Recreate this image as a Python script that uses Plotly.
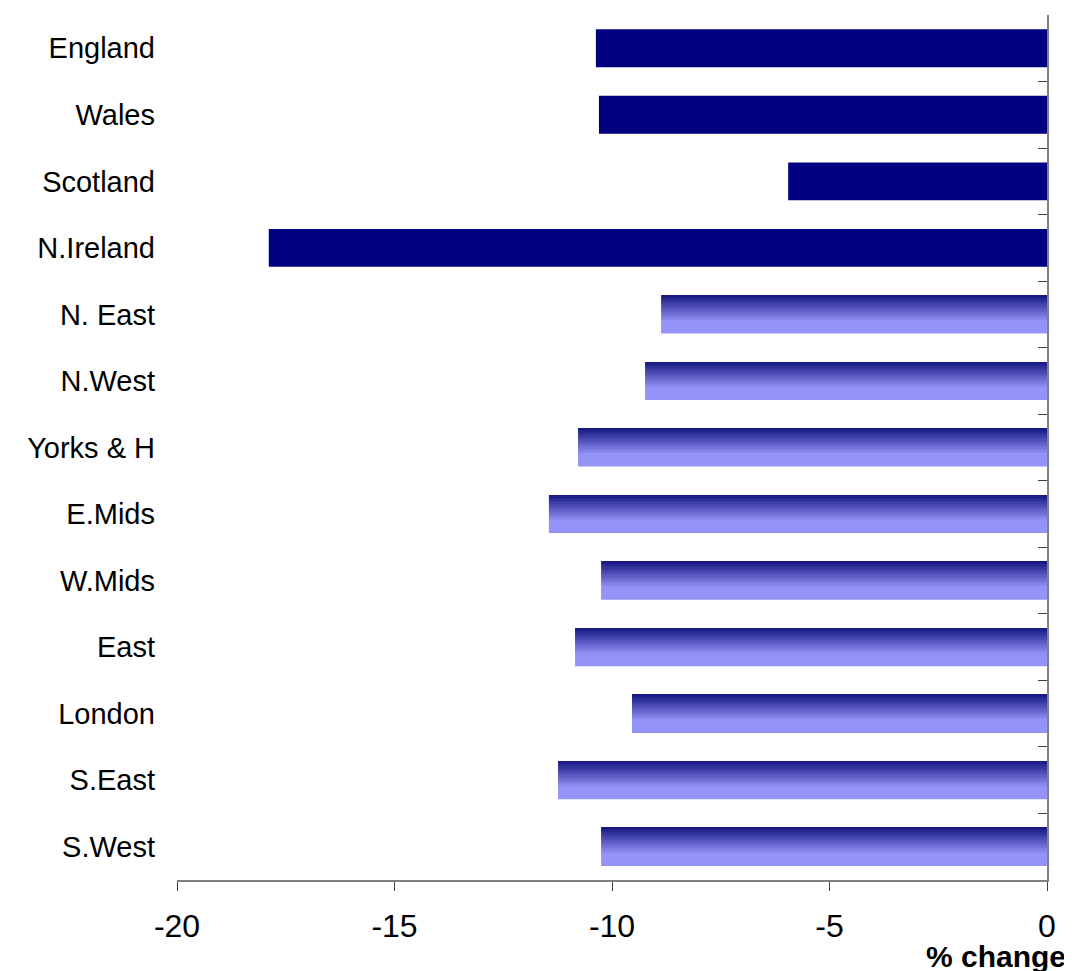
import plotly.graph_objects as go

categories = ["England", "Wales", "Scotland", "N.Ireland", "N. East", "N.West",
              "Yorks & H", "E.Mids", "W.Mids", "East", "London", "S.East", "S.West"]
values = [-10.37, -10.30, -5.95, -17.89, -8.87, -9.24, -10.78, -11.45,
          -10.25, -10.85, -9.54, -11.24, -10.25]
is_nation = [True, True, True, True, False, False, False, False,
             False, False, False, False, False]
x_ticks = [-20, -15, -10, -5, 0]

BAR_W = 0.57
N_STRIPS = 24
TOP = (20, 20, 128)
BOT = (148, 148, 248)

def strip_color(f):
    t = min(f / 0.7, 1.0)
    c = [round(TOP[k] + (BOT[k] - TOP[k]) * t) for k in range(3)]
    return f"rgb({c[0]},{c[1]},{c[2]})"

fig = go.Figure()

nat_y = [c for c, n in zip(categories, is_nation) if n]
nat_x = [v for v, n in zip(values, is_nation) if n]
reg_y = [c for c, n in zip(categories, is_nation) if not n]
reg_x = [v for v, n in zip(values, is_nation) if not n]

fig.add_trace(go.Bar(y=nat_y, x=nat_x, orientation="h", width=BAR_W,
                     marker=dict(color="#000080", line=dict(width=0)),
                     showlegend=False, hoverinfo="x+y"))

sw = BAR_W / N_STRIPS
for i in range(N_STRIPS):
    f = (i + 0.5) / N_STRIPS
    fig.add_trace(go.Bar(y=reg_y, x=reg_x, orientation="h",
                         width=sw * 1.06, offset=-BAR_W / 2 + i * sw,
                         marker=dict(color=strip_color(f), line=dict(width=0)),
                         showlegend=False, hoverinfo="skip"))

# invisible trace for right-side axis carrying the boundary ticks
fig.add_trace(go.Scatter(x=[0], y=[0], yaxis="y2", mode="markers",
                         marker=dict(opacity=0), showlegend=False, hoverinfo="skip"))

n = len(categories)
fig.update_layout(
    width=1064, height=963,
    margin=dict(l=169, r=25, t=7, b=91),
    paper_bgcolor="white", plot_bgcolor="white",
    barmode="overlay",
    font=dict(family="Liberation Sans, Arial, sans-serif", color="black"),
    xaxis=dict(range=[-20, 0], tickvals=x_ticks, ticktext=[str(t) for t in x_ticks],
               showgrid=False, zeroline=False, showline=True, linecolor="#808080",
               linewidth=2, ticks="outside", ticklen=9, tickwidth=1, tickcolor="#404040",
               tickfont=dict(size=32), ticklabelstandoff=8),
    yaxis=dict(categoryorder="array", categoryarray=categories,
               range=[n - 0.5, -0.5], showgrid=False, zeroline=False, showline=False,
               ticks="", tickfont=dict(size=29), ticklabelstandoff=21),
    yaxis2=dict(overlaying="y", side="right", range=[n - 0.5, -0.5],
                tickvals=[k - 0.5 for k in range(n + 1)], showticklabels=False,
                showgrid=False, zeroline=False, showline=True, linecolor="#808080",
                linewidth=2, ticks="inside", ticklen=9, tickwidth=1, tickcolor="#404040"),
    annotations=[dict(text="<b>% change</b>", xref="paper", yref="paper",
                      x=1.0, y=0, xanchor="right", yanchor="top", yshift=-58, xshift=21,
                      showarrow=False, font=dict(size=30, color="black"))],
)

fig.write_html("out.html")
